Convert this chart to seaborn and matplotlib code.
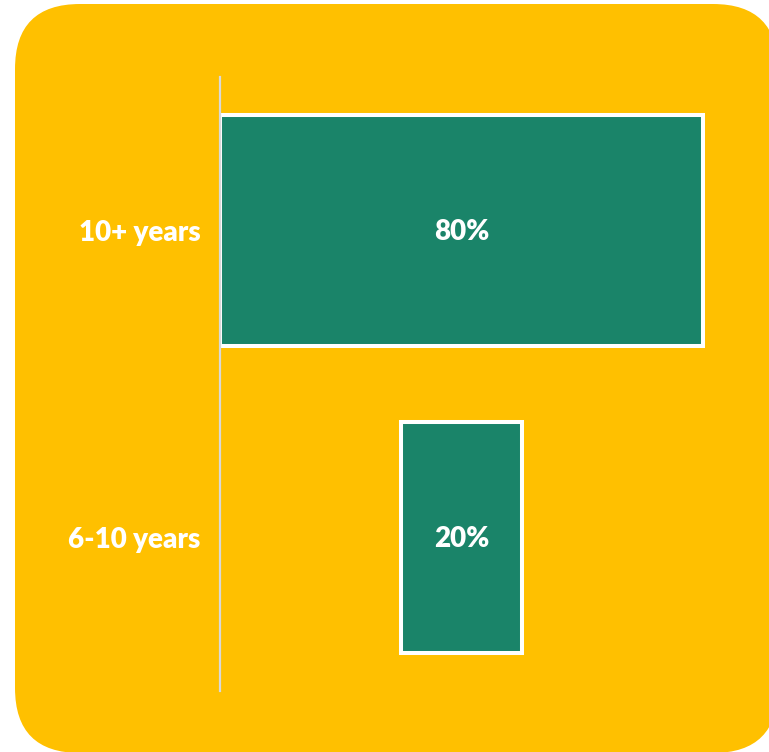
import matplotlib
matplotlib.use("Agg")
import matplotlib.pyplot as plt
from matplotlib.patches import FancyBboxPatch
import seaborn as sns
import pandas as pd

# Tenure funnel data
categories = ["10+ years", "6-10 years"]
shares = [80, 20]
value_labels = ["80%", "20%"]

BG = "#FFC000"
BAR = "#1A8469"

sns.set_theme(style="white")
plt.rcParams["font.family"] = ["Lato", "DejaVu Sans"]

W, H = 769, 752
fig = plt.figure(figsize=(W / 100, H / 100), dpi=100)
fig.patch.set_facecolor("white")

# Rounded yellow card behind the chart (pixel coordinates)
bg = fig.add_axes([0, 0, 1, 1], zorder=-1)
bg.set_xlim(0, W)
bg.set_ylim(H, 0)
bg.axis("off")
bg.add_patch(FancyBboxPatch((15, 4), 763, 749,
                            boxstyle="round,pad=0,rounding_size=65",
                            facecolor=BG, edgecolor="none"))

ax = fig.add_axes([220 / W, (H - 691) / H, 520 / W, 614 / H], zorder=1)
ax.set_facecolor("none")

df = pd.DataFrame({"category": categories, "share": shares})
sns.barplot(data=df, x="share", y="category", orient="h", color=BAR,
            saturation=1, width=0.75, edgecolor="white", linewidth=2.9, ax=ax)

# Center each bar on the widest one to form a funnel
top = max(shares)
for patch, v in zip(ax.patches, shares):
    patch.set_x((top - v) / 2)
    patch.set_width(v)

ax.set_xlim(0, 520 / (483 / 80))
ax.set_ylim(1.5, -0.5)

for i, (v, lab) in enumerate(zip(shares, value_labels)):
    ax.text(top / 2, i + 0.005, lab, ha="center", va="center", color="white",
            fontsize=20, fontweight="heavy")

for s in ["top", "right", "bottom"]:
    ax.spines[s].set_visible(False)
ax.spines["left"].set_color("#D9D9D9")
ax.spines["left"].set_linewidth(1.6)
ax.set_xticks([])
ax.set_xlabel("")
ax.set_ylabel("")
ax.tick_params(axis="y", length=0, pad=14, labelsize=20, labelcolor="white")
for t in ax.get_yticklabels():
    t.set_fontweight("heavy")

fig.savefig("out.png", dpi=100, facecolor="white")
